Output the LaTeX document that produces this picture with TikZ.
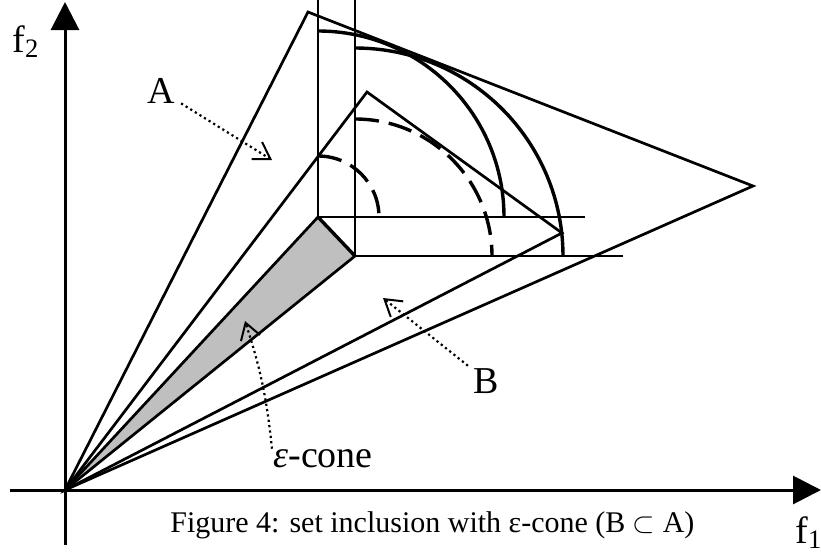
\documentclass[tikz,border=0pt]{standalone}
\usepackage{fontspec}
\setmainfont{Liberation Serif}
\usetikzlibrary{arrows.meta}
\begin{document}
\begin{tikzpicture}[x=0.5pt,y=-0.5pt,
  thinline/.style={line width=1pt},
  mainline/.style={line width=1.35pt},
  arcline/.style={line width=1.7pt},
  dashedarc/.style={line width=1.7pt, dash pattern=on 12pt off 5pt},
  axisline/.style={line width=1.5pt,-{Triangle[length=14pt,width=14pt]}},
  dotarrow/.style={line width=1.1pt, dash pattern=on 1.1pt off 1.6pt,
    -{Straight Barb[length=8pt,width=10pt,line width=1pt]}},
  lab/.style={inner sep=0pt, font=\fontsize{19}{22}\selectfont},
  axlab/.style={inner sep=0pt, font=\fontsize{19}{22}\selectfont},
  caption/.style={inner sep=0pt, font=\fontsize{15}{18}\selectfont},
  conefill/.style={fill=black!25},
]
\useasboundingbox (0,0) rectangle (821,552);
\coordinate (O) at (65,490);
\coordinate (Aapex) at (308,12);
\coordinate (Aright) at (753,186);
\coordinate (Bapex) at (367,92);
\coordinate (Bright) at (562,233);
\coordinate (P1) at (318,217);
\coordinate (P2) at (355,256);
\coordinate (ybot) at (65,545);
\coordinate (ytop) at (65,2);
\coordinate (xleft) at (10,490);
\coordinate (xright) at (821,490);
\coordinate (v1top) at (318,0);
\coordinate (v2top) at (355,0);
\coordinate (h1end) at (585,217);
\coordinate (h2end) at (623,256);

% epsilon cone
\fill[conefill] (O) -- (P1) -- (P2) -- cycle;

% axes
\draw[axisline] (ybot) -- (ytop);
\draw[axisline] (xleft) -- (xright);

% sets
\draw[mainline,line join=miter] (O) -- (Aapex) -- (Aright) -- cycle;
\draw[mainline,line join=miter] (O) -- (Bapex) -- (Bright) -- cycle;
\draw[mainline] (O) -- (P1);
\draw[mainline] (O) -- (P2);
\draw[arcline] (P1) -- (P2);

% dominance cones
\draw[thinline] (v1top) -- (P1) -- (h1end);
\draw[thinline] (v2top) -- (P2) -- (h2end);

% arcs
\draw[arcline] (318,31) arc[start angle=90,end angle=0,radius=93pt];
\draw[arcline] (355,48) arc[start angle=90,end angle=0,radius=104pt];
\draw[dashedarc] (318,156) arc[start angle=90,end angle=0,radius=30.5pt];
\draw[dashedarc] (355,119) arc[start angle=90,end angle=0,radius=68.5pt];

% labels
\node[axlab,anchor=base west] (f2) at (12,52) {f\textsubscript{2}};
\node[axlab,anchor=base west] (f1) at (795,543) {f\textsubscript{1}};
\node[lab,anchor=base] (Alab) at (161,103) {A};
\node[lab,anchor=base] (Blab) at (486,393) {B};
\node[lab,anchor=base west] (elab) at (273,467) {\textit{ε}-cone};
\node[caption,anchor=base west] (cap) at (170,532) {Figure 4: set inclusion with ε-cone (B $\subset$ A)};

% pointers
\coordinate (Atip) at (272,160);
\coordinate (Btip) at (383,298);
\coordinate (Etip) at (245,321);
\draw[dotarrow] ([xshift=3pt]Alab.south east) -- (Atip);
\draw[dotarrow] ([shift={(-2.5pt,1pt)}]Blab.north west) -- (Btip);
\draw[dotarrow] ([xshift=-0.5pt]elab.north west) to[bend right=6] (Etip);
\end{tikzpicture}
\end{document}
